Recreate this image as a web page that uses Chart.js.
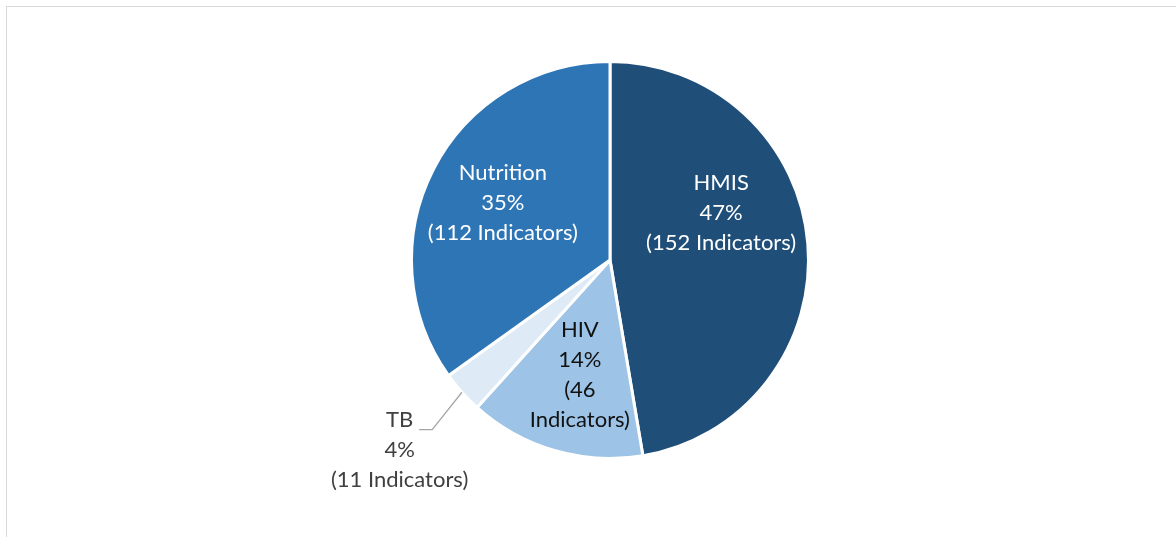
<!DOCTYPE html>
<html>
<head>
<meta charset="utf-8">
<script src="https://cdn.jsdelivr.net/npm/chart.js@4"></script>
<style>
    html, body { margin: 0; padding: 0; background: #fff; overflow: hidden; }
    #wrap { position: relative; width: 1176px; height: 537px; }
    #frame {
        position: absolute; left: 6px; top: 6px; width: 1200px; height: 560px;
        border: 1px solid #d9d9d9; box-sizing: border-box; pointer-events: none;
    }
    canvas { position: absolute; left: 0; top: 0; }
</style>
</head>
<body>
<div id="wrap">
    <canvas id="pieChart" width="1176" height="537"></canvas>
    <div id="frame"></div>
</div>
<script>
// Data
const categories = ['HMIS', 'HIV', 'TB', 'Nutrition'];
const indicatorCounts = [152, 46, 11, 112];
const percentLabels = ['47%', '14%', '4%', '35%'];
const sliceColors = ['#1F4E79', '#9DC3E6', '#DEEBF7', '#2E75B6'];

// Label layout (offset from pie centre, in units of the radius)
const labelSetup = [
    { dx: 0.56, dy: -0.237, color: '#ffffff', lines: ['HMIS', '47%', '(152 Indicators)'] },
    { dx: -0.152, dy: 0.58, color: '#111111', lines: ['HIV', '14%', '(46', 'Indicators)'] },
    { dx: -1.06, dy: 0.955, color: '#404040', lines: ['TB', '4%', '(11 Indicators)'], leader: true },
    { dx: -0.54, dy: -0.288, color: '#ffffff', lines: ['Nutrition', '35%', '(112 Indicators)'] }
];

const sliceLabels = {
    id: 'sliceLabels',
    afterDatasetsDraw(chart) {
        const ctx = chart.ctx;
        const arcs = chart.getDatasetMeta(0).data;
        ctx.save();
        ctx.font = '22px Lato, "Open Sans", sans-serif';
        ctx.textAlign = 'center';
        ctx.textBaseline = 'middle';
        arcs.forEach((arc, i) => {
            const cfg = labelSetup[i];
            const r = arc.outerRadius;
            const cx = arc.x + cfg.dx * r;
            const cy = arc.y + cfg.dy * r;
            const lh = 30;
            const top = cy - (cfg.lines.length - 1) * lh / 2;

            if (cfg.leader) {
                // leader line from the slice edge to the outside label
                const mid = (arc.startAngle + arc.endAngle) / 2;
                const ex = arc.x + Math.cos(mid) * r;
                const ey = arc.y + Math.sin(mid) * r;
                const textW = ctx.measureText(cfg.lines[0]).width;
                const elbowX = cx + textW / 2 + 19;
                const endX = cx + textW / 2 + 6;
                const ly = top + 10;
                ctx.strokeStyle = '#a6a6a6';
                ctx.lineWidth = 1.3;
                ctx.beginPath();
                ctx.moveTo(ex, ey);
                ctx.lineTo(elbowX, ly);
                ctx.lineTo(endX, ly);
                ctx.stroke();
            }

            ctx.fillStyle = cfg.color;
            cfg.lines.forEach((line, j) => {
                ctx.fillText(line, cx, top + j * lh);
            });
        });
        ctx.restore();
    }
};

const chart = new Chart(document.getElementById('pieChart'), {
    type: 'pie',
    data: {
        labels: categories,
        datasets: [{
            data: indicatorCounts,
            backgroundColor: sliceColors,
            borderColor: '#ffffff',
            borderWidth: 3
        }]
    },
    options: {
        responsive: false,
        animation: false,
        layout: {
            padding: { top: 60, bottom: 77, left: 44, right: 0 }
        },
        plugins: {
            legend: { display: false },
            tooltip: { enabled: false }
        }
    },
    plugins: [sliceLabels]
});
</script>
</body>
</html>
